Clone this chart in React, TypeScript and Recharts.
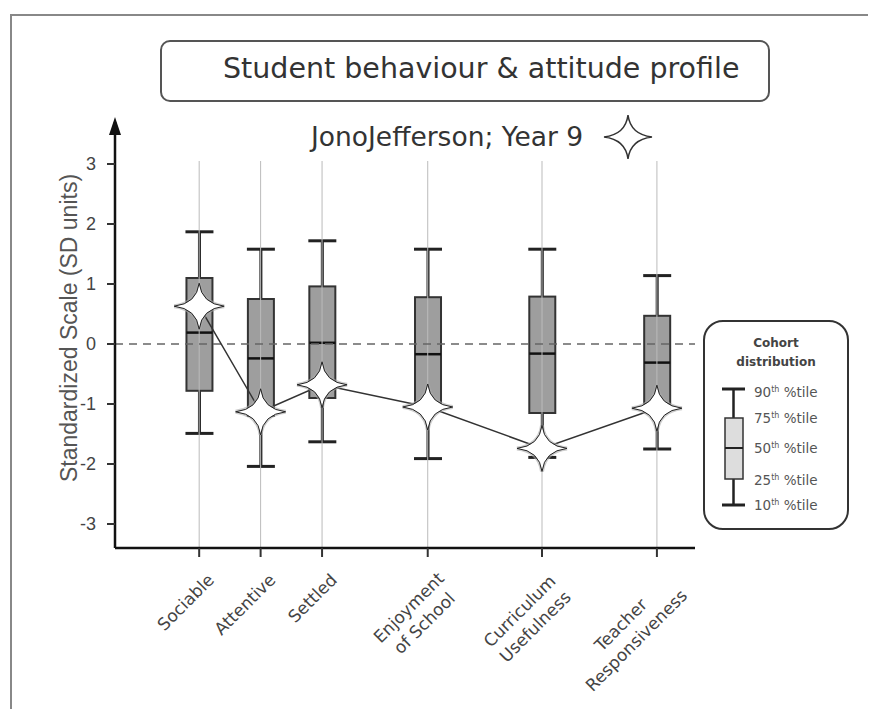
import React from "react";
import {
  ComposedChart,
  Bar,
  Line,
  XAxis,
  YAxis,
  ReferenceLine,
  ReferenceDot,
} from "recharts";

// categories and where they sit along the x axis (uneven gaps, as in the original)
const categories = [
  "Sociable",
  "Attentive",
  "Settled",
  "Enjoyment\nof School",
  "Curriculum\nUsefulness",
  "Teacher\nResponsiveness",
];
const slots = [1, 2, 3, 4.72, 6.58, 8.45];

// cohort distribution (SD units)
const p10 = [-1.49, -2.04, -1.63, -1.91, -1.89, -1.75];
const p25 = [-0.78, -1.2, -0.9, -1.02, -1.15, -1.0];
const p50 = [0.19, -0.24, 0.02, -0.17, -0.16, -0.31];
const p75 = [1.1, 0.75, 0.96, 0.78, 0.79, 0.47];
const p90 = [1.87, 1.58, 1.72, 1.58, 1.58, 1.14];

// the student's own scores
const student = [0.63, -1.13, -0.68, -1.05, -1.74, -1.07];

const yTicks = [-3, -2, -1, 0, 1, 2, 3];

const rows = categories.map((name, i) => ({
  name,
  pos: slots[i],
  p10: p10[i],
  q1: p25[i],
  med: p50[i],
  q3: p75[i],
  p90: p90[i],
  student: student[i],
}));

const starPath = (cx: number, cy: number, rx: number, ry: number, c: number) =>
  `M${cx},${cy - ry} Q${cx + c},${cy - c} ${cx + rx},${cy} Q${cx + c},${cy + c} ${cx},${cy + ry} Q${cx - c},${cy + c} ${cx - rx},${cy} Q${cx - c},${cy - c} ${cx},${cy - ry} Z`;

function BoxShape(props: any) {
  const { x, y, width, height, payload } = props;
  const top = Math.min(y, y + height);
  const h = Math.abs(height);
  const k = h / (payload.q3 - payload.q1);
  const py = (v: number) => top + (payload.q3 - v) * k;
  const cx = x + width / 2;
  const cap = 14;
  return (
    <g>
      <line x1={cx} x2={cx} y1={py(payload.p90)} y2={top} stroke="#222" strokeWidth={3} />
      <line x1={cx} x2={cx} y1={top + h} y2={py(payload.p10)} stroke="#222" strokeWidth={3} />
      <line x1={cx - cap} x2={cx + cap} y1={py(payload.p90)} y2={py(payload.p90)} stroke="#222" strokeWidth={3} />
      <line x1={cx - cap} x2={cx + cap} y1={py(payload.p10)} y2={py(payload.p10)} stroke="#222" strokeWidth={3} />
      <rect x={x} y={top} width={width} height={h} fill="#9e9e9e" stroke="#333" strokeWidth={2} />
      <line x1={x} x2={x + width} y1={py(payload.med)} y2={py(payload.med)} stroke="#111" strokeWidth={2.5} />
    </g>
  );
}

const renderStar = (props: any) => {
  const { cx, cy, index } = props;
  const d = starPath(cx, cy, 25, 23, 2.5);
  return (
    <g key={`star-${index}`}>
      <path d={d} fill="none" stroke="#aaa" strokeWidth={4} strokeOpacity={0.6} />
      <path d={d} fill="#fff" stroke="#222" strokeWidth={1} />
    </g>
  );
};

const LABEL_FS = 17;

function XTick(props: any) {
  const { x, y, payload } = props;
  const i = slots.indexOf(payload.value);
  if (i < 0) return null;
  const lines = categories[i].split("\n");
  const w = Math.max(...lines.map((l) => l.length)) * LABEL_FS * 0.57;
  return (
    <g transform={`translate(${x + 16},${y + 22}) rotate(-45)`}>
      {lines.map((l, j) => (
        <text
          key={j}
          x={lines.length > 1 ? -w / 2 : 0}
          y={j * 22}
          textAnchor={lines.length > 1 ? "middle" : "end"}
          fill="#444"
          fontSize={LABEL_FS}
          fontFamily="DejaVu Sans"
        >
          {l}
        </text>
      ))}
    </g>
  );
}

function YLabel(props: any) {
  const { viewBox } = props;
  const x = viewBox.x + 14;
  const y = viewBox.y + viewBox.height / 2 - 7;
  return (
    <text
      x={x}
      y={y}
      transform={`rotate(-90, ${x}, ${y})`}
      textAnchor="middle"
      dominantBaseline="central"
      fill="#555"
      fontSize={23}
      fontFamily="Liberation Sans"
    >
      Standardized Scale (SD units)
    </text>
  );
}

const legendRows = [
  { n: "90", top: 70 },
  { n: "75", top: 96 },
  { n: "50", top: 126 },
  { n: "25", top: 158 },
  { n: "10", top: 183 },
];

export default function App() {
  return (
    <div
      style={{
        position: "fixed",
        left: 0,
        top: 0,
        width: 875,
        height: 709,
        background: "#fff",
        overflow: "hidden",
      }}
    >
      {/* frame */}
      <div style={{ position: "absolute", left: 10, top: 14, width: 856, height: 720, borderTop: "2px solid #888", borderLeft: "2px solid #888" }} />

      {/* title */}
      <div
        style={{
          position: "absolute",
          left: 160,
          top: 40,
          width: 606,
          height: 58,
          border: "2px solid #555",
          borderRadius: 10,
          boxSizing: "content-box",
        }}
      >
        <div
          style={{
            position: "absolute",
            left: 61,
            top: 10,
            fontFamily: "DejaVu Sans",
            fontSize: 28.5,
            color: "#333",
            whiteSpace: "nowrap",
          }}
        >
          Student behaviour &amp; attitude profile
        </div>
      </div>

      {/* subtitle */}
      <div
        style={{
          position: "absolute",
          left: 311,
          top: 121,
          fontFamily: "DejaVu Sans",
          fontSize: 26.5,
          color: "#333",
          whiteSpace: "nowrap",
        }}
      >
        JonoJefferson; Year 9
      </div>
      <svg style={{ position: "absolute", left: 600, top: 111 }} width={56} height={52}>
        <path d={starPath(28, 26, 24, 22, 2.5)} fill="#fff" stroke="#333" strokeWidth={1.5} />
      </svg>

      <ComposedChart
        width={875}
        height={709}
        data={rows}
        margin={{ top: 122, right: 180, bottom: 0, left: 55 }}
        style={{ position: "absolute", left: 0, top: 0 }}
      >
        <XAxis
          type="number"
          dataKey="pos"
          domain={[-0.37, 9.07]}
          allowDataOverflow
          ticks={slots}
          height={161}
          interval={0}
          axisLine={{ stroke: "#111", strokeWidth: 2.5 }}
          tickLine={{ stroke: "#333", strokeWidth: 2 }}
          tickSize={9}
          tick={<XTick />}
        />
        <YAxis
          type="number"
          domain={[-3.4, 3.7]}
          allowDataOverflow
          ticks={yTicks}
          interval={0}
          width={60}
          axisLine={{ stroke: "#111", strokeWidth: 2.5 }}
          tickLine={{ stroke: "#333", strokeWidth: 2 }}
          tickSize={8}
          tickMargin={11}
          tick={{ fill: "#444", fontSize: 18, fontFamily: "Liberation Sans" }}
          label={<YLabel />}
        />
        {slots.map((s) => (
          <ReferenceLine
            key={s}
            segment={[
              { x: s, y: 3.05 },
              { x: s, y: -3.4 },
            ]}
            stroke="#bbb"
            strokeWidth={1}
          />
        ))}
        <ReferenceLine y={0} stroke="#666" strokeWidth={1.5} strokeDasharray="8 6" />
        <ReferenceDot
          x={-0.37}
          y={3.7}
          ifOverflow="visible"
          shape={(p: any) => (
            <polygon
              points={`${p.cx},${p.cy - 5} ${p.cx - 6},${p.cy + 13} ${p.cx + 6},${p.cy + 13}`}
              fill="#111"
            />
          )}
        />
        <Bar
          dataKey={(d: any) => [d.q1, d.q3]}
          barSize={26}
          shape={<BoxShape />}
          isAnimationActive={false}
        />
        <Line
          type="linear"
          dataKey="student"
          stroke="#333"
          strokeWidth={1.5}
          dot={renderStar}
          activeDot={false}
          isAnimationActive={false}
        />
      </ComposedChart>

      {/* cohort distribution key */}
      <div
        style={{
          position: "absolute",
          left: 703,
          top: 320,
          width: 142,
          height: 206,
          border: "2px solid #333",
          borderRadius: 20,
          fontFamily: "DejaVu Sans",
        }}
      >
        <div
          style={{
            position: "absolute",
            left: 0,
            top: 12,
            width: 142,
            textAlign: "center",
            fontSize: 12,
            fontWeight: "bold",
            color: "#444",
            lineHeight: "19px",
          }}
        >
          Cohort
          <br />
          distribution
        </div>
        <svg style={{ position: "absolute", left: 0, top: 0 }} width={60} height={206}>
          <line x1={28.5} x2={28.5} y1={67} y2={183} stroke="#222" strokeWidth={2.5} />
          <line x1={17} x2={40} y1={67} y2={67} stroke="#222" strokeWidth={3} />
          <line x1={17} x2={40} y1={183} y2={183} stroke="#222" strokeWidth={3} />
          <rect x={20} y={96} width={18} height={61} fill="#ddd" stroke="#333" strokeWidth={1.5} />
          <line x1={20} x2={38} y1={126} y2={126} stroke="#222" strokeWidth={2} />
        </svg>
        {legendRows.map((r) => (
          <div
            key={r.n}
            style={{
              position: "absolute",
              left: 49,
              top: r.top,
              transform: "translateY(-50%)",
              fontSize: 13.5,
              color: "#555",
              whiteSpace: "nowrap",
            }}
          >
            {r.n}
            <sup style={{ fontSize: 8 }}>th</sup> %tile
          </div>
        ))}
      </div>
    </div>
  );
}
